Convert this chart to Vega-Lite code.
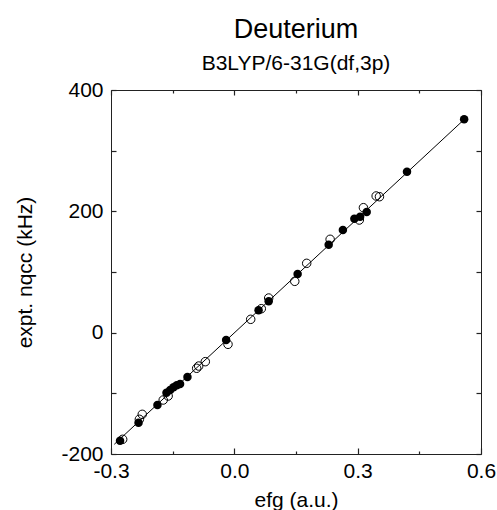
{
  "$schema": "https://vega.github.io/schema/vega-lite/v6.json",
  "autosize": "none",
  "width": 370,
  "height": 364,
  "padding": {"left": 111, "top": 90, "right": 16, "bottom": 56},
  "background": "white",
  "config": {
    "font": "Liberation Sans",
    "view": {"stroke": "#222222", "strokeWidth": 1},
    "axis": {"domain": false, "grid": false, "tickColor": "#222222", "tickWidth": 1.2, "labelColor": "black", "titleColor": "black", "labelFont": "Liberation Sans", "titleFont": "Liberation Sans", "titleFontWeight": "normal", "labelFontSize": 21, "titleFontSize": 21}
  },
  "title": {
    "text": "Deuterium",
    "subtitle": "B3LYP/6-31G(df,3p)",
    "anchor": "middle",
    "fontSize": 27,
    "fontWeight": "normal",
    "subtitleFontSize": 21,
    "subtitleColor": "black",
    "color": "black",
    "offset": 4,
    "subtitlePadding": 9
  },
  "datasets": {
    "fit": [
      {"efg": -0.292, "nqcc": -184},
      {"efg": 0.56, "nqcc": 352}
    ],
    "filled": [
      {"efg": 0.559, "nqcc": 351.7},
      {"efg": 0.420, "nqcc": 265.3},
      {"efg": 0.322, "nqcc": 198.9},
      {"efg": 0.306, "nqcc": 191.2},
      {"efg": 0.292, "nqcc": 187.9},
      {"efg": 0.264, "nqcc": 169.2},
      {"efg": 0.2295, "nqcc": 145},
      {"efg": 0.154, "nqcc": 96.7},
      {"efg": 0.0836, "nqcc": 51.6},
      {"efg": 0.059, "nqcc": 36.8},
      {"efg": -0.020, "nqcc": -12.1},
      {"efg": -0.114, "nqcc": -73.1},
      {"efg": -0.132, "nqcc": -84.6},
      {"efg": -0.140, "nqcc": -86.8},
      {"efg": -0.148, "nqcc": -90.1},
      {"efg": -0.156, "nqcc": -94.5},
      {"efg": -0.165, "nqcc": -99},
      {"efg": -0.187, "nqcc": -119.2},
      {"efg": -0.233, "nqcc": -148.4},
      {"efg": -0.278, "nqcc": -178}
    ],
    "open": [
      {"efg": 0.353, "nqcc": 224.1},
      {"efg": 0.345, "nqcc": 225.3},
      {"efg": 0.314, "nqcc": 206},
      {"efg": 0.304, "nqcc": 185.7},
      {"efg": 0.233, "nqcc": 153.9},
      {"efg": 0.176, "nqcc": 114.3},
      {"efg": 0.147, "nqcc": 84.6},
      {"efg": 0.0836, "nqcc": 57.1},
      {"efg": 0.0656, "nqcc": 39.5},
      {"efg": 0.0398, "nqcc": 22},
      {"efg": -0.0154, "nqcc": -19.2},
      {"efg": -0.0706, "nqcc": -47.8},
      {"efg": -0.0867, "nqcc": -55},
      {"efg": -0.0916, "nqcc": -58.7},
      {"efg": -0.161, "nqcc": -104.4},
      {"efg": -0.173, "nqcc": -111},
      {"efg": -0.224, "nqcc": -134.6},
      {"efg": -0.231, "nqcc": -142.8},
      {"efg": -0.2716, "nqcc": -175.8}
    ]
  },
  "layer": [
    {
      "data": {"name": "fit"},
      "mark": {"type": "line", "color": "black", "strokeWidth": 1},
      "encoding": {
        "x": {"field": "efg", "type": "quantitative", "scale": {"domain": [-0.3, 0.6], "nice": false, "zero": false},
          "axis": {"orient": "bottom", "title": "efg (a.u.)", "values": [-0.3, 0, 0.3, 0.6], "tickSize": -6, "labelPadding": 12, "titlePadding": 8, "labelExpr": "replace(format(datum.value, '.1f'), '\u2212', '-')", "labelFlush": false}},
        "y": {"field": "nqcc", "type": "quantitative", "scale": {"domain": [-200, 400], "nice": false, "zero": false},
          "axis": {"orient": "left", "title": "expt. nqcc (kHz)", "values": [-200, -100, 0, 100, 200, 300, 400], "tickSize": -5, "labelPadding": 13, "titlePadding": 25, "labelExpr": "datum.value % 200 == 0 ? replace(format(datum.value, 'd'), '\u2212', '-') : ''", "labelFlush": false}}
      }
    },
    {
      "data": {"name": "fit"},
      "mark": {"type": "line", "color": "black", "strokeWidth": 1, "strokeOpacity": 0},
      "encoding": {
        "x": {"field": "efg", "type": "quantitative", "axis": {"orient": "top", "title": null, "labels": false, "values": [-0.15, 0.15, 0.45], "tickSize": -3}},
        "y": {"field": "nqcc", "type": "quantitative", "axis": null}
      }
    },
    {
      "data": {"name": "filled"},
      "mark": {"type": "point", "shape": "circle", "filled": true, "color": "black", "size": 72, "opacity": 1},
      "encoding": {
        "x": {"field": "efg", "type": "quantitative", "axis": {"orient": "top", "title": null, "labels": false, "values": [-0.3, 0, 0.3, 0.6], "tickSize": -5}},
        "y": {"field": "nqcc", "type": "quantitative", "axis": {"orient": "right", "title": null, "labels": false, "values": [-200, -100, 0, 100, 200, 300, 400], "tickSize": -5}}
      }
    },
    {
      "data": {"name": "open"},
      "mark": {"type": "point", "shape": "circle", "filled": false, "color": "black", "strokeWidth": 1, "size": 72, "opacity": 1},
      "encoding": {
        "x": {"field": "efg", "type": "quantitative", "axis": {"orient": "bottom", "title": null, "labels": false, "values": [-0.15, 0.15, 0.45], "tickSize": -3}},
        "y": {"field": "nqcc", "type": "quantitative", "axis": null}
      }
    }
  ],
  "resolve": {"axis": {"x": "independent", "y": "independent"}}
}
